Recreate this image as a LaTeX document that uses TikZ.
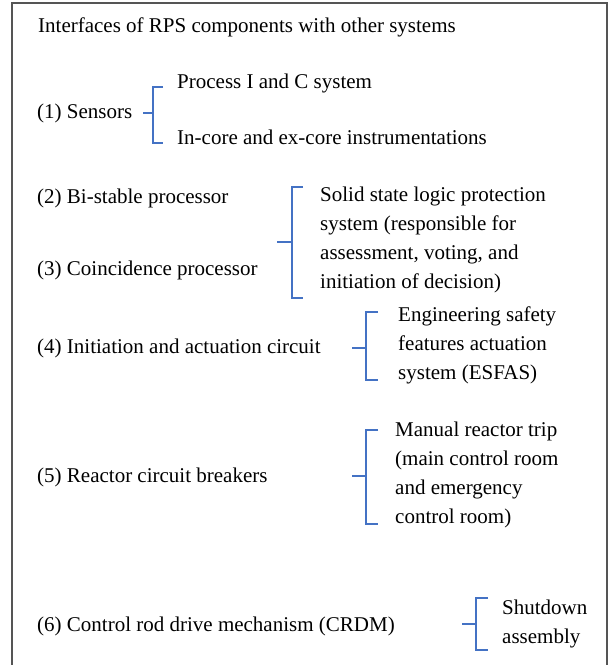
\documentclass[tikz,border=0pt]{standalone}
\usepackage{fontspec}
\setmainfont{Liberation Serif}
\usetikzlibrary{positioning}
\definecolor{bracketblue}{RGB}{68,114,196}
\definecolor{framegray}{RGB}{85,85,85}

\begin{document}
\begin{tikzpicture}[x=1pt,y=-1pt,
  item/.style={anchor=west,inner sep=0pt,font=\fontsize{21}{29}\selectfont},
  group/.style={item,align=left},
  bracket/.style={draw=bracketblue,line width=1.2pt},
  frame/.style={draw=framegray,line width=2pt}]
\useasboundingbox (0,0) rectangle (612,665);
\draw[frame] (12,668) |- (607,3) -- (607,668);

\node[item] (title) at (38,27) {Interfaces of RPS components with other systems};

% sensors
\node[item] (sens) at (37,113) {(1) Sensors};
\node[item] (proc) at (177,83) {Process I and C system};
\node[item] (core) at (177,137) {In-core and ex-core instrumentations};
\coordinate (b1) at (153,113);
\draw[bracket] (b1) -- ++(-10,0);
\draw[bracket] (b1) ++(10,-26) -- ++(-10,0) -- ++(0,56) -- ++(10,0);

% processors
\node[item] (bist) at (37,198) {(2) Bi-stable processor};
\node[item] (coin) at (37,270) {(3) Coincidence processor};
\node[group] (logic) at (320,240) {Solid state logic protection\\system (responsible for\\assessment, voting, and\\initiation of decision)};
\coordinate (b2) at (292,242);
\draw[bracket] (b2) -- ++(-15,0);
\draw[bracket] (b2) ++(11,-55) -- ++(-11,0) -- ++(0,111) -- ++(11,0);

% actuation
\node[item] (init) at (37,348) {(4) Initiation and actuation circuit};
\node[group] (esfas) at (398,345) {Engineering safety\\features actuation\\system (ESFAS)};
\coordinate (b3) at (366,348);
\draw[bracket] (b3) -- ++(-14,0);
\draw[bracket] (b3) ++(12,-36) -- ++(-12,0) -- ++(0,68) -- ++(12,0);

% breakers
\node[item] (brk) at (37,477) {(5) Reactor circuit breakers};
\node[group] (trip) at (395,475) {Manual reactor trip\\(main control room\\and emergency\\control room)};
\coordinate (b4) at (366,476);
\draw[bracket] (b4) -- ++(-14,0);
\draw[bracket] (b4) ++(12,-46) -- ++(-12,0) -- ++(0,94) -- ++(12,0);

% crdm
\node[item] (crdm) at (37,626) {(6) Control rod drive mechanism (CRDM)};
\node[group] (shut) at (502,624) {Shutdown\\assembly};
\coordinate (b5) at (476,624);
\draw[bracket] (b5) -- ++(-14,0);
\draw[bracket] (b5) ++(12,-26) -- ++(-12,0) -- ++(0,52) -- ++(12,0);
\end{tikzpicture}
\end{document}
